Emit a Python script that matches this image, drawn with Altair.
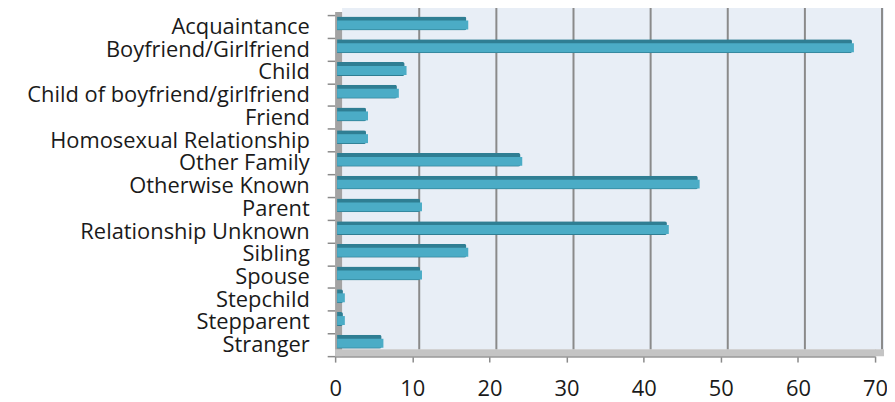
import altair as alt
import pandas as pd

categories = ["Acquaintance", "Boyfriend/Girlfriend", "Child", "Child of boyfriend/girlfriend",
              "Friend", "Homosexual Relationship", "Other Family", "Otherwise Known", "Parent",
              "Relationship Unknown", "Sibling", "Spouse", "Stepchild", "Stepparent", "Stranger"]
values = [17, 67, 9, 8, 4, 4, 24, 47, 11, 43, 17, 11, 1, 1, 6]
x_ticks = [0, 10, 20, 30, 40, 50, 60, 70]

df = pd.DataFrame({"cat": categories, "val": values})
grid_df = pd.DataFrame({"t": x_ticks[1:]})

W, H = 543, 343
FONT = "Open Sans"

xscale = alt.Scale(domain=[0, 70], nice=False, zero=True)
yscale = alt.Scale(domain=categories, paddingInner=0, paddingOuter=0)

# back wall
wall = alt.Chart(pd.DataFrame({"a": [0], "b": [70]})).mark_rect(
    color="#E8EEF6", xOffset=7, x2Offset=9).encode(
    x=alt.X("a:Q", scale=xscale), x2="b:Q",
    y=alt.value(-7), y2=alt.value(H - 7))

# left side wall
side = alt.Chart(pd.DataFrame({"a": [0]})).mark_rect(
    color="#A3A3A3", xOffset=0, x2Offset=7).encode(
    x=alt.X("a:Q", scale=xscale), x2="a:Q",
    y=alt.value(-3), y2=alt.value(H))

# floor
floor = alt.Chart(pd.DataFrame({"a": [0], "b": [70]})).mark_rect(
    color="#C4C4C4", x2Offset=9).encode(
    x=alt.X("a:Q", scale=xscale), x2="b:Q",
    y=alt.value(H - 7), y2=alt.value(H))

grid = alt.Chart(grid_df).mark_rule(color="#8A8A8A", strokeWidth=2, xOffset=7).encode(
    x=alt.X("t:Q", scale=xscale), y=alt.value(-7), y2=alt.value(H - 7))

bar_back = alt.Chart(df).mark_bar(size=14, yOffset=-3, color="#2F7E93",
                                  x2Offset=4, xOffset=2, cornerRadiusEnd=2).encode(
    y=alt.Y("cat:N", scale=yscale, sort=categories,
            axis=alt.Axis(title=None, domain=False, tickBand="extent", tickSize=8,
                          tickColor="#8A8A8A", tickWidth=1.5, labelFont=FONT,
                          labelFontSize=22, labelColor="#1a1a1a", labelPadding=18,
                          labelLimit=400)),
    x=alt.X("val:Q", scale=xscale,
            axis=alt.Axis(title=None, values=x_ticks, grid=False, domain=True,
                          domainColor="#9A9A9A", domainWidth=2, tickColor="#8A8A8A",
                          tickSize=6, tickWidth=1.5, labelFont=FONT, labelFontSize=22,
                          labelColor="#1a1a1a", labelPadding=17, labelFlush=False)),
)

bar_front = alt.Chart(df).mark_bar(size=9, yOffset=-1.5, color="#4BACC6", xOffset=2).encode(
    y=alt.Y("cat:N", scale=yscale, sort=categories),
    x=alt.X("val:Q", scale=xscale),
)

chart = alt.layer(wall, side, floor, grid, bar_back, bar_front).properties(
    width=W, height=H,
    autosize=alt.AutoSizeParams(type="none"),
    padding={"left": 329, "top": 6, "right": 12, "bottom": 45},
).configure_view(stroke=None).configure(background="white")

chart.save("out.html", embed_options={"renderer": "svg", "actions": False})
